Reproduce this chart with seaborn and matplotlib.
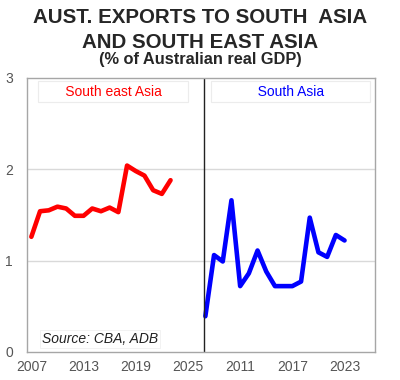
import numpy as np
import pandas as pd
import matplotlib.pyplot as plt
import seaborn as sns

# values (% of Australian real GDP)
years = list(range(2007, 2024))
south_east_asia = [1.26, 1.54, 1.55, 1.59, 1.57, 1.49, 1.49, 1.57, 1.54, 1.58, 1.53,
                   2.04, 1.98, 1.93, 1.77, 1.73, 1.88]
south_asia = [0.39, 1.06, 0.99, 1.66, 0.72, 0.86, 1.11, 0.88, 0.72, 0.72, 0.72,
              0.77, 1.47, 1.09, 1.04, 1.28, 1.22]
left_ticks = [2007, 2013, 2019, 2025]
right_ticks = [2011, 2017, 2023]

shift = 20  # right panel drawn on the same axis, shifted along

sns.set_style("white")
plt.rcParams['font.family'] = ['Liberation Sans', 'DejaVu Sans']

sea = pd.DataFrame({'year': years, 'val': south_east_asia})
sa = pd.DataFrame({'year': [y + shift for y in years], 'val': south_asia})

fig = plt.figure(figsize=(4, 3.8), dpi=100)
ax = fig.add_axes([0.0675, 0.074, 0.87, 0.721])

for y in [1, 2]:
    ax.axhline(y, color='#d9d9d9', lw=1, zorder=0)

sns.lineplot(data=sea, x='year', y='val', color='#ff0000', lw=3.3, ax=ax)
sns.lineplot(data=sa, x='year', y='val', color='#0000ff', lw=3.3, ax=ax)

ax.axvline(2026.8, color='#222222', lw=1)

ax.set_xlim(2006.5, 2046.5)
ax.set_ylim(0, 3)
ax.set_yticks([0, 1, 2, 3])
ax.set_xticks(left_ticks + [t + shift for t in right_ticks])
ax.set_xticklabels([str(t) for t in left_ticks + right_ticks])
ax.tick_params(axis='both', colors='#555555', labelsize=10, length=0, pad=6)
ax.tick_params(axis='y', pad=10)
ax.set_xlabel('')
ax.set_ylabel('')
for s in ax.spines.values():
    s.set_color('#a6a6a6')
    s.set_linewidth(1)

box = dict(boxstyle='square,pad=0.25', fc='white', ec='#ececec', lw=0.8)
ax.text(2016.4, 2.85, '      South east Asia      ', color='#ff0000', fontsize=10,
        ha='center', va='center', bbox=box)
ax.text(2036.8, 2.85, '           South Asia           ', color='#0000ff', fontsize=10,
        ha='center', va='center', bbox=box)
ax.text(2008.2, 0.14, 'Source: CBA, ADB', fontsize=10, style='italic', color='#222222',
        ha='left', va='center',
        bbox=dict(boxstyle='square,pad=0.15', fc='white', ec='#f0f0f0', lw=0.6))

fig.text(0.5, 0.953, 'AUST. EXPORTS TO SOUTH  ASIA', ha='center', va='center',
         fontsize=14.8, fontweight='bold')
fig.text(0.5, 0.889, 'AND SOUTH EAST ASIA', ha='center', va='center',
         fontsize=14.8, fontweight='bold')
fig.text(0.5, 0.843, '(% of Australian real GDP)', ha='center', va='center',
         fontsize=11.8, fontweight='bold')

fig.savefig('out.png', dpi=100)
